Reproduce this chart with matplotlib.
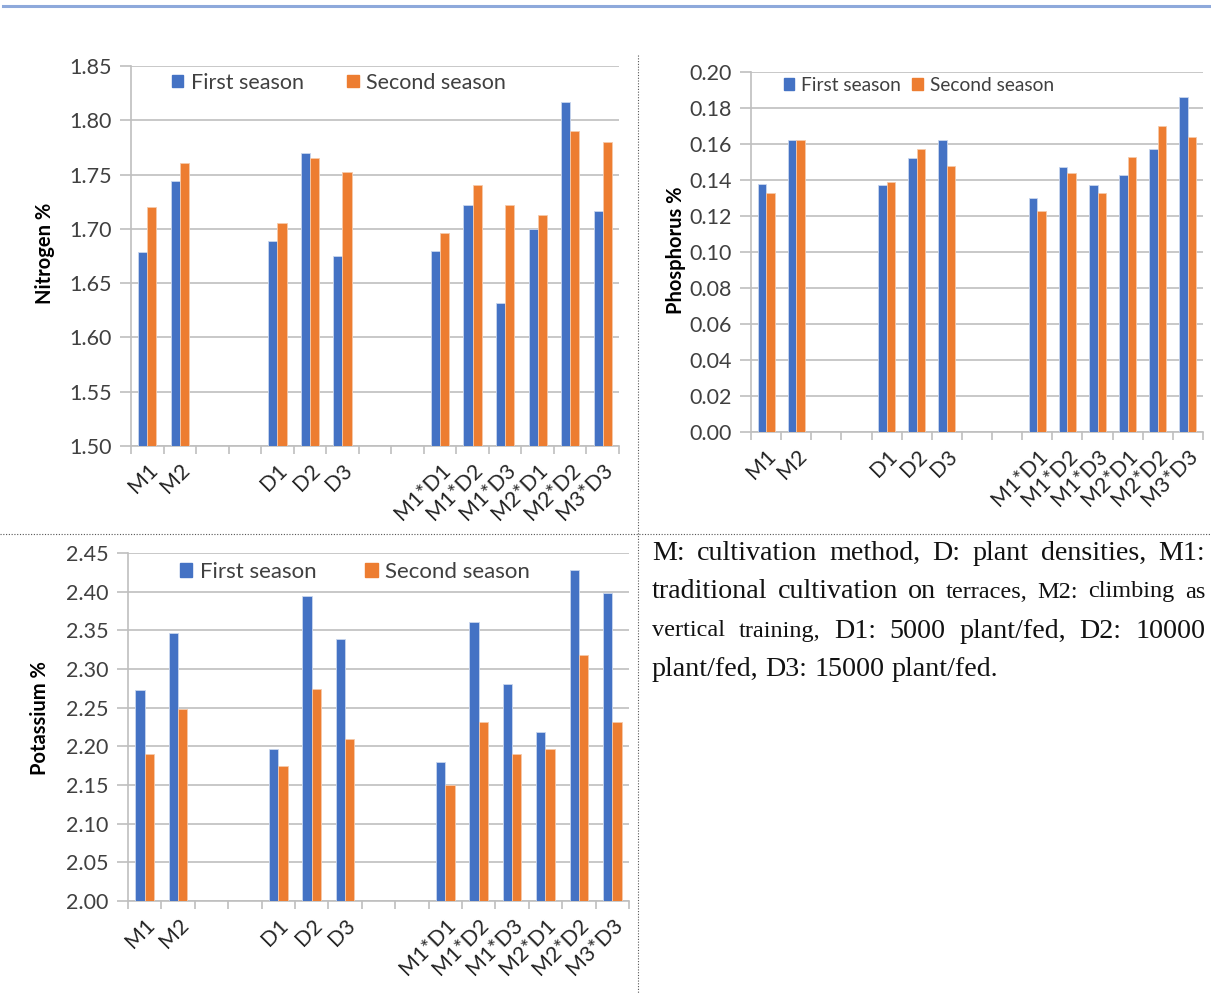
import numpy as np
import matplotlib
matplotlib.use("Agg")
from matplotlib import pyplot as plt
from matplotlib import font_manager
from matplotlib.lines import Line2D
from matplotlib.patches import Patch

plt.rcParams['font.family'] = ['Lato', 'DejaVu Sans']

# categories (blank slots separate the three groups)
cats = ['M1', 'M2', '', '', 'D1', 'D2', 'D3', '', '',
        'M1*D1', 'M1*D2', 'M1*D3', 'M2*D1', 'M2*D2', 'M3*D3']

nit_first = [1.679, 1.744, np.nan, np.nan, 1.689, 1.770, 1.675, np.nan, np.nan,
             1.680, 1.722, 1.632, 1.700, 1.817, 1.716]
nit_second = [1.720, 1.761, np.nan, np.nan, 1.705, 1.765, 1.752, np.nan, np.nan,
              1.696, 1.740, 1.722, 1.713, 1.790, 1.780]

pho_first = [0.138, 0.162, np.nan, np.nan, 0.137, 0.152, 0.162, np.nan, np.nan,
             0.130, 0.147, 0.137, 0.143, 0.157, 0.186]
pho_second = [0.133, 0.162, np.nan, np.nan, 0.139, 0.157, 0.148, np.nan, np.nan,
              0.123, 0.144, 0.133, 0.153, 0.170, 0.164]

pot_first = [2.273, 2.347, np.nan, np.nan, 2.197, 2.394, 2.339, np.nan, np.nan,
             2.180, 2.361, 2.280, 2.218, 2.428, 2.398]
pot_second = [2.190, 2.248, np.nan, np.nan, 2.174, 2.274, 2.209, np.nan, np.nan,
              2.150, 2.231, 2.190, 2.197, 2.318, 2.231]

BLUE = '#4472C4'
ORANGE = '#ED7D31'
GRID = '#BFBFBF'
TICK_FS = 15.5

W, H = 1211, 994
fig = plt.figure(figsize=(W / 100, H / 100), dpi=100)


def px_rect(left, right, top, bottom):
    return [left / W, (H - bottom) / H, (right - left) / W, (bottom - top) / H]


def bar_panel(rect, first, second, ymin, ymax, step, ylabel, ylab_xy,
              leg_anchor, colspace, leg_fs):
    ax = fig.add_axes(rect)
    x = np.arange(len(cats))
    bw = 0.28
    ax.bar(x - bw / 2, np.array(first) - ymin, bw, bottom=ymin, color=BLUE,
           edgecolor='#C9D6EE', linewidth=0.6, zorder=3)
    ax.bar(x + bw / 2, np.array(second) - ymin, bw, bottom=ymin, color=ORANGE,
           edgecolor='#F6C9AA', linewidth=0.6, zorder=3)
    ax.set_xlim(-0.5, len(cats) - 0.5)
    ax.set_ylim(ymin, ymax)
    ticks = np.arange(ymin, ymax + step / 2, step)
    ax.set_yticks(ticks)
    ax.set_yticklabels(['{:.2f}'.format(t) for t in ticks], fontsize=TICK_FS,
                       color='#404040')
    ax.set_xticks(x)
    ax.set_xticklabels(cats, rotation=45, ha='right', rotation_mode='anchor',
                       fontsize=TICK_FS, color='#262626')
    ax.set_xticks(np.arange(-0.5, len(cats)), minor=True)
    ax.tick_params(axis='x', which='major', length=0, pad=10)
    ax.tick_params(axis='x', which='minor', length=6, color=GRID, width=1.2)
    ax.tick_params(axis='y', length=8, color=GRID, width=1.2, pad=6)
    ax.grid(axis='y', color=GRID, linewidth=1.2, zorder=0)
    for s in ['top', 'right']:
        ax.spines[s].set_visible(False)
    for s in ['left', 'bottom']:
        ax.spines[s].set_color(GRID)
        ax.spines[s].set_linewidth(1.2)
    fig.text(ylab_xy[0] / W, 1 - ylab_xy[1] / H, ylabel, rotation=90,
             ha='center', va='center', fontsize=14.5, fontweight='bold')
    handles = [Patch(color=BLUE), Patch(color=ORANGE)]
    ax.legend(handles, ['First season', 'Second season'], ncol=2,
              loc='upper left', bbox_to_anchor=leg_anchor, frameon=False,
              fontsize=leg_fs, handlelength=0.55, handleheight=0.55,
              handletextpad=0.35, columnspacing=colspace, borderaxespad=0,
              labelcolor='#404040')
    return ax


bar_panel(px_rect(131, 619, 66, 446), nit_first, nit_second, 1.50, 1.85, 0.05,
          'Nitrogen %', (45, 253), ((163 - 131) / 488, 1.0 + 2 / 380), 2.0, 15.5)
bar_panel(px_rect(751, 1203, 72, 432), pho_first, pho_second, 0.0, 0.20, 0.02,
          'Phosphorus %', (676, 250), ((776 - 751) / 452, 1.0 + 3 / 360), 0.6, 13.8)
bar_panel(px_rect(128, 629, 553, 901), pot_first, pot_second, 2.00, 2.45, 0.05,
          'Potassium %', (40, 718), ((171 - 128) / 501, 1.0 + 0 / 348), 2.2, 16.0)

# frame lines of the page
fig.add_artist(Line2D([3 / W, 1], [1 - 6 / H, 1 - 6 / H], color='#8EA9DB', linewidth=2.2))
fig.add_artist(Line2D([638 / W, 638 / W], [1 - 55 / H, 0], color='#555555',
                      linewidth=0.8, linestyle=(0, (1, 1.5))))
fig.add_artist(Line2D([0, 1], [1 - 534 / H, 1 - 534 / H], color='#555555',
                      linewidth=0.8, linestyle=(0, (1, 1.5))))

# justified note text
serif_path = font_manager.findfont(font_manager.FontProperties(family='Liberation Serif'))
BIG, SMALL = 20.2, 17.5
note_lines = [
    [('M:', BIG), ('cultivation', BIG), ('method,', BIG), ('D:', BIG), ('plant', BIG),
     ('densities,', BIG), ('M1:', BIG)],
    [('traditional', BIG), ('cultivation', BIG), ('on', BIG), ('terraces,', SMALL),
     ('M2:', SMALL), ('climbing', SMALL), ('as', SMALL)],
    [('vertical', SMALL), ('training,', SMALL), ('D1:', BIG), ('5000', BIG),
     ('plant/fed,', BIG), ('D2:', BIG), ('10000', BIG)],
    [('plant/fed,', BIG), ('D3:', BIG), ('15000', BIG), ('plant/fed.', BIG)],
]
x_left, x_right = 652, 1205
y0, dy = 553, 39
renderer = fig.canvas.get_renderer()
for i, words in enumerate(note_lines):
    ybase = 1 - (y0 + i * dy) / H
    objs = []
    for w, fs in words:
        fp = font_manager.FontProperties(fname=serif_path, size=fs)
        t = fig.text(0, ybase, w, fontproperties=fp,
                     va='center', ha='left', color='#111111')
        objs.append(t)
    widths = [t.get_window_extent(renderer).width for t in objs]
    if i < len(note_lines) - 1:
        gap = (x_right - x_left - sum(widths)) / (len(objs) - 1)
    else:
        gap = 0.25 * BIG * 100 / 72
    xp = x_left
    for t, wd in zip(objs, widths):
        t.set_x(xp / W)
        xp += wd + gap

fig.savefig('out.png', dpi=100)
